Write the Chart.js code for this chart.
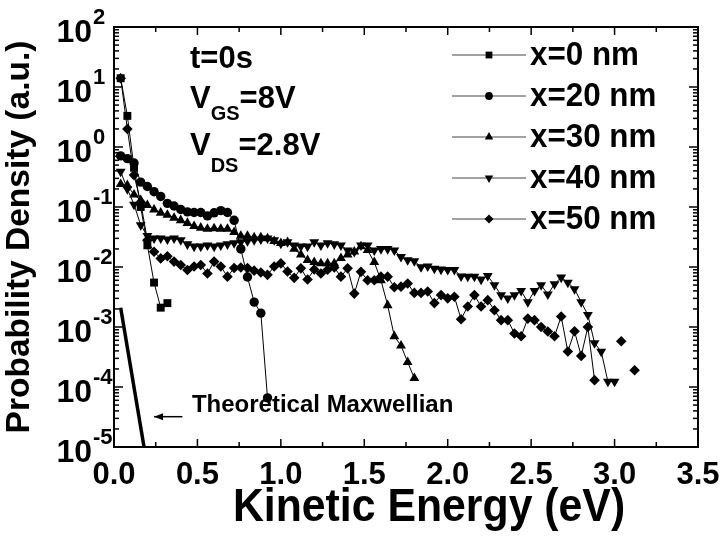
<!DOCTYPE html>
<html>
<head>
<meta charset="utf-8">
<title>Probability density vs kinetic energy</title>
<script src="https://cdn.jsdelivr.net/npm/chart.js@4.4.0/dist/chart.umd.min.js"></script>
<style>
  html, body { margin: 0; padding: 0; background: #fff; }
  #chart { display: block; }
</style>
</head>
<body>
<canvas id="chart" width="727" height="538"></canvas>
<script>
const FONT = "'Liberation Sans', Arial, Helvetica, sans-serif";

// energy grid (eV), one marker every 0.04 eV
const energy = [0.04, 0.08, 0.12, 0.16, 0.20, 0.24, 0.28, 0.32, 0.36, 0.40,
  0.44, 0.48, 0.52, 0.56, 0.60, 0.64, 0.68, 0.72, 0.76, 0.80,
  0.84, 0.88, 0.92, 0.96, 1.00, 1.04, 1.08, 1.12, 1.16, 1.20,
  1.24, 1.28, 1.32, 1.36, 1.40, 1.44, 1.48, 1.52, 1.56, 1.60,
  1.64, 1.68, 1.72, 1.76, 1.80, 1.84, 1.88, 1.92, 1.96, 2.00,
  2.04, 2.08, 2.12, 2.16, 2.20, 2.24, 2.28, 2.32, 2.36, 2.40,
  2.44, 2.48, 2.52, 2.56, 2.60, 2.64, 2.68, 2.72, 2.76, 2.80,
  2.84, 2.88, 2.92, 2.96, 3.00, 3.04, 3.08, 3.12];

const pd0nm = [14, 3.3, 0.45, 0.1, 0.023, 0.0055, 0.0021, 0.0025];

const pd20nm = [0.71, 0.64, 0.54, 0.26, 0.22, 0.18, 0.15, 0.115, 0.104, 0.091,
  0.083, 0.081, 0.081, 0.071, 0.08, 0.087, 0.081, 0.06, 0.02, 0.0068,
  0.0026, 0.0017, 0.000066];

const pd30nm = [0.24, 0.23, 0.16, 0.13, 0.107, 0.09, 0.08, 0.074, 0.066, 0.06,
  0.054, 0.048, 0.045, 0.043, 0.044, 0.043, 0.043, 0.038, 0.033, 0.033,
  0.031, 0.031, 0.03, 0.027, 0.025, 0.026, 0.02, 0.016, 0.013, 0.012,
  0.0115, 0.0115, 0.0115, 0.014, 0.016, 0.018, 0.022, 0.019, 0.012, 0.006,
  0.0023, 0.0007, 0.00049, 0.00026, 0.00014];

const pd40nm = [0.39, 0.2, 0.11, 0.05, 0.033, 0.03, 0.03, 0.029, 0.03, 0.028,
  0.024, 0.022, 0.022, 0.023, 0.022, 0.023, 0.024, 0.025, 0.026, 0.027,
  0.028, 0.029, 0.03, 0.028, 0.0245, 0.026, 0.023, 0.022, 0.022, 0.026,
  0.023, 0.025, 0.024, 0.023, 0.019, 0.018, 0.023, 0.023, 0.019, 0.02,
  0.02, 0.019, 0.0148, 0.013, 0.0126, 0.01, 0.0103, 0.0094, 0.0091, 0.009,
  0.009, 0.007, 0.0069, 0.0069, 0.0062, 0.0071, 0.005, 0.0034, 0.003, 0.0034,
  0.004, 0.0026, 0.004, 0.005, 0.0035, 0.0052, 0.0067, 0.0055, 0.0043, 0.0026,
  0.0016, 0.00054, 0.00039, 0.000123, 0.000123];

const pd50nm = [14, 2.0, 0.34, 0.12, 0.028, 0.018, 0.0139, 0.0151, 0.0123, 0.0108,
  0.0089, 0.0102, 0.0108, 0.0078, 0.0123, 0.0102, 0.0069, 0.0096, 0.0098, 0.0096,
  0.0087, 0.0081, 0.0074, 0.0102, 0.0115, 0.0084, 0.0066, 0.0095, 0.0062, 0.0091,
  0.0078, 0.009, 0.0098, 0.0069, 0.0095, 0.0036, 0.0083, 0.006, 0.006, 0.0069,
  0.0069, 0.0046, 0.0047, 0.0053, 0.0037, 0.0037, 0.0039, 0.0025, 0.0034, 0.003,
  0.0032, 0.00135, 0.0022, 0.0034, 0.0022, 0.0028, 0.0019, 0.0013, 0.0013, 0.00078,
  0.0007, 0.00138, 0.0013, 0.001, 0.00084, 0.0007, 0.0015, 0.00039, 0.00085, 0.00033,
  0.001, 0.00013, null, null, null, 0.00058, null, 0.00019];

// theoretical Maxwellian (thick line near the origin)
const maxwellE = [0.04, 0.18];
const maxwellP = [0.0021, 0.00001];

const seriesLabels = ['x=0 nm', 'x=20 nm', 'x=30 nm', 'x=40 nm', 'x=50 nm'];
const seriesValues = [pd0nm, pd20nm, pd30nm, pd40nm, pd50nm];
const markerStyles = ['rect', 'circle', 'triangle', 'triangle', 'rectRot'];
const markerTurns = [0, 0, 0, 180, 0];
const markerSizes = [5.6, 4.7, 5.7, 5.7, 5.3];

const xTickValues = [0, 0.5, 1.0, 1.5, 2.0, 2.5, 3.0, 3.5];
const xMinorTicks = [0.25, 0.75, 1.25, 1.75, 2.25, 2.75, 3.25];
const yTickExps = [2, 1, 0, -1, -2, -3, -4, -5];
const yMinorSteps = [2, 3, 4, 5, 6, 7, 8, 9];

const datasets = seriesValues.map((vals, i) => ({
  label: seriesLabels[i],
  data: vals.map((v, k) => ({ x: energy[k], y: v })),
  borderColor: '#000',
  borderWidth: 1,
  backgroundColor: '#000',
  pointStyle: markerStyles[i],
  pointRotation: markerTurns[i],
  pointRadius: markerSizes[i],
  pointBackgroundColor: '#000',
  pointBorderWidth: 0,
  tension: 0,
  spanGaps: false
}));

datasets.push({
  label: 'Theoretical Maxwellian',
  data: maxwellE.map((e, k) => ({ x: e, y: maxwellP[k] })),
  borderColor: '#000',
  borderWidth: 3.5,
  pointRadius: 0,
  tension: 0
});

function line(ctx, x1, y1, x2, y2) {
  ctx.beginPath();
  ctx.moveTo(x1, y1);
  ctx.lineTo(x2, y2);
  ctx.stroke();
}

// text with a slight horizontal squeeze, like the narrow bold face of the original
function squeezed(ctx, text, x, y, sx) {
  ctx.save();
  ctx.translate(x, y);
  ctx.scale(sx, 1);
  ctx.fillText(text, 0, 0);
  ctx.restore();
}

const decorPlugin = {
  id: 'decor',
  afterDatasetsDraw(chart) {
    const { ctx, chartArea: a, scales: { x, y } } = chart;
    ctx.save();
    ctx.strokeStyle = '#000';
    ctx.fillStyle = '#000';

    // inward ticks on all four sides
    ctx.lineWidth = 1.5;
    xTickValues.forEach(v => {
      const px = x.getPixelForValue(v);
      line(ctx, px, a.bottom, px, a.bottom - 8);
      line(ctx, px, a.top, px, a.top + 8);
    });
    xMinorTicks.forEach(v => {
      const px = x.getPixelForValue(v);
      line(ctx, px, a.bottom, px, a.bottom - 5);
      line(ctx, px, a.top, px, a.top + 5);
    });
    yTickExps.forEach(e => {
      const py = y.getPixelForValue(Math.pow(10, e));
      line(ctx, a.left, py, a.left + 9, py);
      line(ctx, a.right, py, a.right - 9, py);
      if (e > -5) {
        yMinorSteps.forEach(m => {
          const pm = y.getPixelForValue(m * Math.pow(10, e - 1));
          line(ctx, a.left, pm, a.left + 5, pm);
          line(ctx, a.right, pm, a.right - 5, pm);
        });
      }
    });

    // frame
    ctx.lineWidth = 2;
    ctx.strokeRect(a.left, a.top, a.right - a.left, a.bottom - a.top);

    // y tick labels: 10 with superscript exponent
    yTickExps.forEach(e => {
      const py = y.getPixelForValue(Math.pow(10, e));
      ctx.font = 'bold 32px ' + FONT;
      ctx.textAlign = 'right';
      ctx.textBaseline = 'alphabetic';
      ctx.fillText('10', a.left - 22, py + 15);
      ctx.font = 'bold 22px ' + FONT;
      ctx.textAlign = 'left';
      ctx.fillText(String(e), a.left - 21, py - 3);
    });

    // x axis title
    ctx.font = 'bold 46px ' + FONT;
    ctx.textAlign = 'center';
    ctx.textBaseline = 'alphabetic';
    squeezed(ctx, 'Kinetic Energy (eV)', 429, 521, 0.93);

    // conditions text
    ctx.textAlign = 'left';
    const tx = a.left + 76;
    ctx.font = 'bold 31px ' + FONT;
    ctx.fillText('t=0s', tx, 68);
    ctx.fillText('V', tx, 108);
    let w = ctx.measureText('V').width;
    ctx.font = 'bold 20px ' + FONT;
    ctx.fillText('GS', tx + w, 120);
    let w2 = ctx.measureText('GS').width;
    ctx.font = 'bold 31px ' + FONT;
    ctx.fillText('=8V', tx + w + w2, 108);
    ctx.fillText('V', tx, 155);
    ctx.font = 'bold 20px ' + FONT;
    ctx.fillText('DS', tx + w, 172);
    w2 = ctx.measureText('DS').width;
    ctx.font = 'bold 31px ' + FONT;
    ctx.fillText('=2.8V', tx + w + w2, 155);

    // legend: short line with marker, then label
    ctx.font = 'bold 33px ' + FONT;
    ctx.textBaseline = 'middle';
    seriesLabels.forEach((lab, i) => {
      const ry = a.top + 28 + i * 41;
      ctx.lineWidth = 1;
      ctx.strokeStyle = '#444';
      line(ctx, 452, ry, 526, ry);
      ctx.fillStyle = '#000';
      Chart.helpers.drawPoint(ctx, {
        pointStyle: markerStyles[i], rotation: markerTurns[i],
        radius: markerSizes[i] - 0.8, borderWidth: 0
      }, 489, ry);
      squeezed(ctx, lab, 530, ry + 1, 0.95);
    });

    // arrow and Maxwellian label
    ctx.strokeStyle = '#000';
    ctx.lineWidth = 1.5;
    const ay = y.getPixelForValue(3.2e-5);
    const ax1 = x.getPixelForValue(0.41);
    const ax2 = x.getPixelForValue(0.24);
    line(ctx, ax1, ay, ax2, ay);
    ctx.beginPath();
    ctx.moveTo(ax2, ay);
    ctx.lineTo(ax2 + 9, ay - 3.5);
    ctx.lineTo(ax2 + 9, ay + 3.5);
    ctx.closePath();
    ctx.fill();
    ctx.font = 'bold 24px ' + FONT;
    ctx.textBaseline = 'alphabetic';
    ctx.fillText('Theoretical Maxwellian', x.getPixelForValue(0.467), 412);

    ctx.restore();
  }
};

new Chart(document.getElementById('chart'), {
  type: 'line',
  data: { datasets },
  options: {
    responsive: false,
    animation: false,
    devicePixelRatio: 1,
    layout: { padding: { top: 27, right: 29, left: 0, bottom: 0 } },
    plugins: { legend: { display: false }, tooltip: { enabled: false } },
    scales: {
      x: {
        type: 'linear', min: 0, max: 3.5,
        grid: { display: false }, border: { display: false },
        ticks: {
          stepSize: 0.5, padding: 2, color: '#000', maxRotation: 0, autoSkip: false,
          font: { family: FONT, size: 31, weight: 'bold' },
          callback: v => v.toFixed(1)
        },
        title: { display: false },
        afterFit: s => { s.height = 91; }
      },
      y: {
        type: 'logarithmic', min: 1e-5, max: 100,
        grid: { display: false }, border: { display: false },
        ticks: { display: false },
        title: {
          display: true, text: 'Probability Density (a.u.)', color: '#000',
          font: { family: FONT, size: 33.5, weight: 'bold' },
          padding: { top: 0, bottom: 0 }
        },
        afterFit: s => { s.width = 114; }
      }
    }
  },
  plugins: [decorPlugin]
});
</script>
</body>
</html>
